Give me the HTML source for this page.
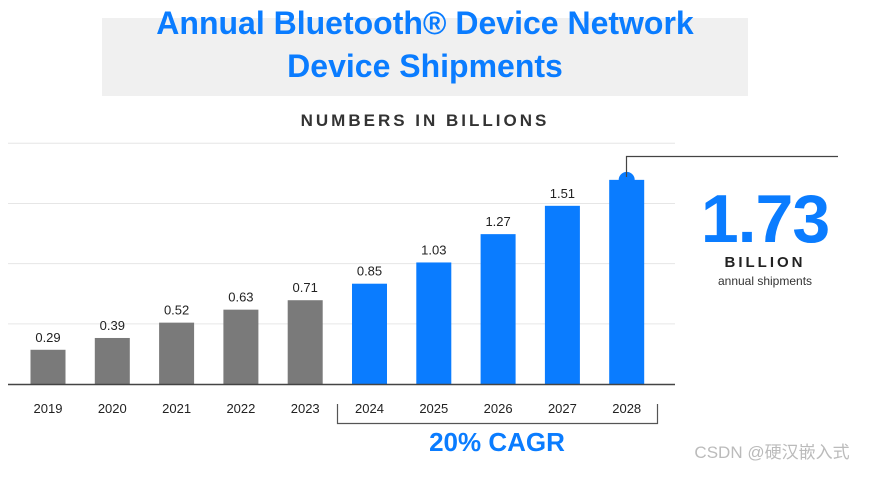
<!DOCTYPE html>
<html><head><meta charset="utf-8"><style>
body{margin:0;background:#fff;width:871px;height:472px;overflow:hidden;font-family:"Liberation Sans",sans-serif;}
</style></head><body>
<svg width="871" height="472">
<rect x="102" y="18" width="646" height="78" fill="#f0f0f0"/>
<text x="425" y="34" text-anchor="middle" font-size="32" font-weight="bold" fill="#0a7cff">Annual Bluetooth® Device Network</text>
<text x="425" y="77" text-anchor="middle" font-size="32" font-weight="bold" fill="#0a7cff">Device Shipments</text>
<text x="425" y="126" text-anchor="middle" font-size="17" font-weight="bold" fill="#333" letter-spacing="3">NUMBERS IN BILLIONS</text>
<g id="grid"></g><g id="bars"></g>
<line x1="8" y1="384.5" x2="675" y2="384.5" stroke="#444" stroke-width="1.5"/>
<path d="M337.5 404 V423.5 H657.5 V404" fill="none" stroke="#555" stroke-width="1.2"/>
<text x="497" y="451" text-anchor="middle" font-size="26" font-weight="bold" fill="#0a7cff">20% CAGR</text>
<path d="M626.5 177 V156.5 H838" fill="none" stroke="#444" stroke-width="1.2"/>
<text x="765" y="242" text-anchor="middle" font-size="68" font-weight="bold" fill="#0a7cff" letter-spacing="-1">1.73</text>
<text x="765" y="267" text-anchor="middle" font-size="15" font-weight="bold" fill="#222" letter-spacing="3">BILLION</text>
<text x="765" y="285" text-anchor="middle" font-size="12" fill="#333">annual shipments</text>
<text x="772" y="458" text-anchor="middle" font-size="17" fill="#bbb">CSDN @硬汉嵌入式</text>
</svg>
<script>
const years=["2019","2020","2021","2022","2023","2024","2025","2026","2027","2028"];
const values=[0.29,0.39,0.52,0.63,0.71,0.85,1.03,1.27,1.51,1.73];
const forecast=[false,false,false,false,false,true,true,true,true,true];
const gridTicks=[0.51,1.02,1.53,2.04];
const NS="http://www.w3.org/2000/svg";
const y=v=>384-v*118;
const x=i=>48+i*64.3;
const g=document.getElementById('grid'),b=document.getElementById('bars');
gridTicks.forEach(t=>{const l=document.createElementNS(NS,'line');
l.setAttribute('x1',8);l.setAttribute('x2',675);l.setAttribute('y1',y(t));l.setAttribute('y2',y(t));
l.setAttribute('stroke','#e6e6e6');


g.appendChild(l);});
values.forEach((v,i)=>{const r=document.createElementNS(NS,'rect');
r.setAttribute('x',x(i)-17.5);r.setAttribute('width',35);r.setAttribute('y',y(v));r.setAttribute('height',v*118);
r.setAttribute('fill',forecast[i]?'#0a7cff':'#7a7a7a');


b.appendChild(r);
if(i<values.length-1){const t=document.createElementNS(NS,'text');
t.setAttribute('x',x(i));t.setAttribute('y',y(v)-8);t.setAttribute('text-anchor','middle');t.setAttribute('font-size','13');t.setAttribute('fill','#222');
t.textContent=v.toFixed(2);


b.appendChild(t);}else{const c=document.createElementNS(NS,'circle');
c.setAttribute('cx',x(i));c.setAttribute('cy',y(v));c.setAttribute('r',8);c.setAttribute('fill','#0a7cff');


b.appendChild(c);}
const yl=document.createElementNS(NS,'text');
yl.setAttribute('x',x(i));yl.setAttribute('y',413);yl.setAttribute('text-anchor','middle');yl.setAttribute('font-size','13');yl.setAttribute('fill','#222');
yl.textContent=years[i];


b.appendChild(yl);});
</script>
</body></html>
